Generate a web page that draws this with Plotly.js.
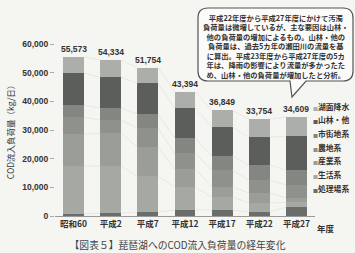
<!DOCTYPE html>
<html><head><meta charset="utf-8">
<script src="https://cdn.plot.ly/plotly-3.0.1.min.js"></script>
<style>html,body{margin:0;padding:0;background:#f5f5f2;}#c{width:355px;height:253px;}</style>
</head><body><div id="c"></div>
<script>
const categories = ['昭和60','平成2','平成7','平成12','平成17','平成22','平成27'];
const totals = [55573, 54334, 51754, 43394, 36849, 33754, 34609];
// stacked bottom -> top
const seriesNames = ['処理場系','生活系','産業系','農地系','市街地系','山林・他','湖面降水'];
const shori   = [700, 1000, 1400, 2100, 2100, 1400, 3100];
const seikatsu= [16800, 16400, 12400, 8000, 4500, 3100, 1700];
const sangyo  = [11000, 11500, 10300, 6250, 3500, 3500, 1500];
const nochi   = [5950, 4500, 6500, 5550, 5900, 4500, 4500];
const shigai  = [4150, 4200, 4900, 5250, 4900, 5250, 5200];
const sanrin  = [11200, 10800, 10800, 10450, 10100, 9750, 11850];
const komen   = [5773, 5934, 5454, 5794, 5849, 6254, 6759];
const seriesValues = [shori, seikatsu, sangyo, nochi, shigai, sanrin, komen];
const colors = ['#6b6d6a','#a6a8a4','#9b9d99','#8f918d','#848682','#5c5e5b','#acaeaa'];
const yTicks = [0,10000,20000,30000,40000,50000,60000];
const noteLines = [
 '平成22年度から平成27年度にかけて汚濁',
 '負荷量は微増しているが、主な要因は山林・',
 '他の負荷量の増加によるもの。山林・他の',
 '負荷量は、過去5カ年の瀬田川の流量を基',
 'に算出。平成23年度から平成27年度の5カ',
 '年は、降雨の影響により流量が多かったた',
 'め、山林・他の負荷量が増加したと分析。'
];

const xs = categories.map((c,i)=>i);
const half = 0.28;
const FONT = 'Liberation Sans, Arial, Noto Sans CJK JP, sans-serif';
const JFONT = 'Noto Sans CJK JP, sans-serif';

const traces = [];
// series lines
const cum = xs.map(()=>0);
const lx = [], ly = [];
seriesValues.forEach(vals=>{
  vals.forEach((v,i)=>{cum[i]+=v;});
  for(let i=0;i<xs.length-1;i++){
    lx.push(i+half, i+1-half, null);
    ly.push(cum[i], cum[i+1], null);
  }
});
seriesValues.forEach((vals,k)=>{
  traces.push({type:'bar', x:xs, y:vals, name:seriesNames[k], width:0.56,
    marker:{color:colors[k], line:{width:0}}, showlegend:false, hoverinfo:'skip'});
});
traces.push({type:'scatter', mode:'lines', x:lx, y:ly, line:{color:'#dededa', width:0.6},
  showlegend:false, hoverinfo:'skip'});

const annotations = [];
totals.forEach((t,i)=>{
  annotations.push({x:i, y:t, xref:'x', yref:'y', text:t.toLocaleString('en-US'),
    showarrow:false, yanchor:'bottom', yshift:1, font:{family:FONT, size:8.5, color:'#333', weight:'bold'}});
});
// legend (top -> bottom)
for(let k=seriesNames.length-1, r=0; k>=0; k--, r++){
  const py = 106 + r*13.7;
  annotations.push({xref:'paper', yref:'paper', x:(311-55)/260, y:(216-py)/172,
    xanchor:'left', yanchor:'middle', showarrow:false,
    text:'<span style="font-size:5px;fill:'+colors[k]+'">■</span>'+seriesNames[k],
    font:{family:JFONT, size:7.8, color:'#333', weight:'bold'}});
}
annotations.push({xref:'paper', yref:'paper', x:(315-55)/260, y:(216-228)/172, xanchor:'left',
  yanchor:'middle', showarrow:false, text:'年度', font:{family:JFONT, size:8.5, color:'#333', weight:'bold'}});
annotations.push({xref:'paper', yref:'paper', x:(276-55)/260, y:(216-46)/172, xanchor:'center',
  yanchor:'middle', showarrow:false, align:'center', text:noteLines.join('<br>'),
  font:{family:JFONT, size:7.3, color:'#333', weight:'bold'}});

function px(x){return (x-55)/260;}
function py(y){return (216-y)/172;}
const L=198,R=353,T=8,B=81,rr=10;
const bubblePath = 'M'+px(L+rr)+','+py(T)+' L'+px(R-rr)+','+py(T)+
 ' Q'+px(R)+','+py(T)+' '+px(R)+','+py(T+rr)+
 ' L'+px(R)+','+py(B-rr)+' Q'+px(R)+','+py(B)+' '+px(R-rr)+','+py(B)+
 ' L'+px(306)+','+py(B)+' L'+px(292)+','+py(97)+' L'+px(290)+','+py(B)+
 ' L'+px(L+rr)+','+py(B)+' Q'+px(L)+','+py(B)+' '+px(L)+','+py(B-rr)+
 ' L'+px(L)+','+py(T+rr)+' Q'+px(L)+','+py(T)+' '+px(L+rr)+','+py(T)+' Z';

const layout = {
  width:355, height:253,
  margin:{l:55, r:40, t:44, b:37},
  paper_bgcolor:'#f5f5f2', plot_bgcolor:'#f5f5f2',
  barmode:'stack', bargap:0.44,
  showlegend:false,
  title:{text:'【図表５】琵琶湖へのCOD流入負荷量の経年変化', x:0.5, xanchor:'center',
    y:1-246/253, yanchor:'middle', yref:'container', font:{family:JFONT, size:9.8, color:'#444'}},
  xaxis:{range:[-0.5,6.5], tickvals:xs, ticktext:categories, showgrid:false, zeroline:false,
    showline:true, linecolor:'#999', linewidth:1, ticks:'',
    tickfont:{family:JFONT, size:8.5, color:'#333', weight:'bold'}, fixedrange:true},
  yaxis:{range:[0,60000], tickvals:yTicks, tickformat:',', showgrid:false, zeroline:false,
    showline:false, ticks:'outside', ticklen:4, tickcolor:'#aaa',
    tickfont:{family:FONT, size:8.5, color:'#333', weight:'bold'},
    title:{text:'COD流入負荷量（kg/日）', font:{family:JFONT, size:8.5, color:'#333'}, standoff:6}},
  annotations:annotations,
  shapes:[{type:'path', xref:'paper', yref:'paper', path:bubblePath,
    line:{color:'#555', width:1.2}, fillcolor:'#fbfbf9', layer:'above'}]
};
Plotly.newPlot('c', traces, layout, {displayModeBar:false, staticPlot:true});
</script></body></html>
